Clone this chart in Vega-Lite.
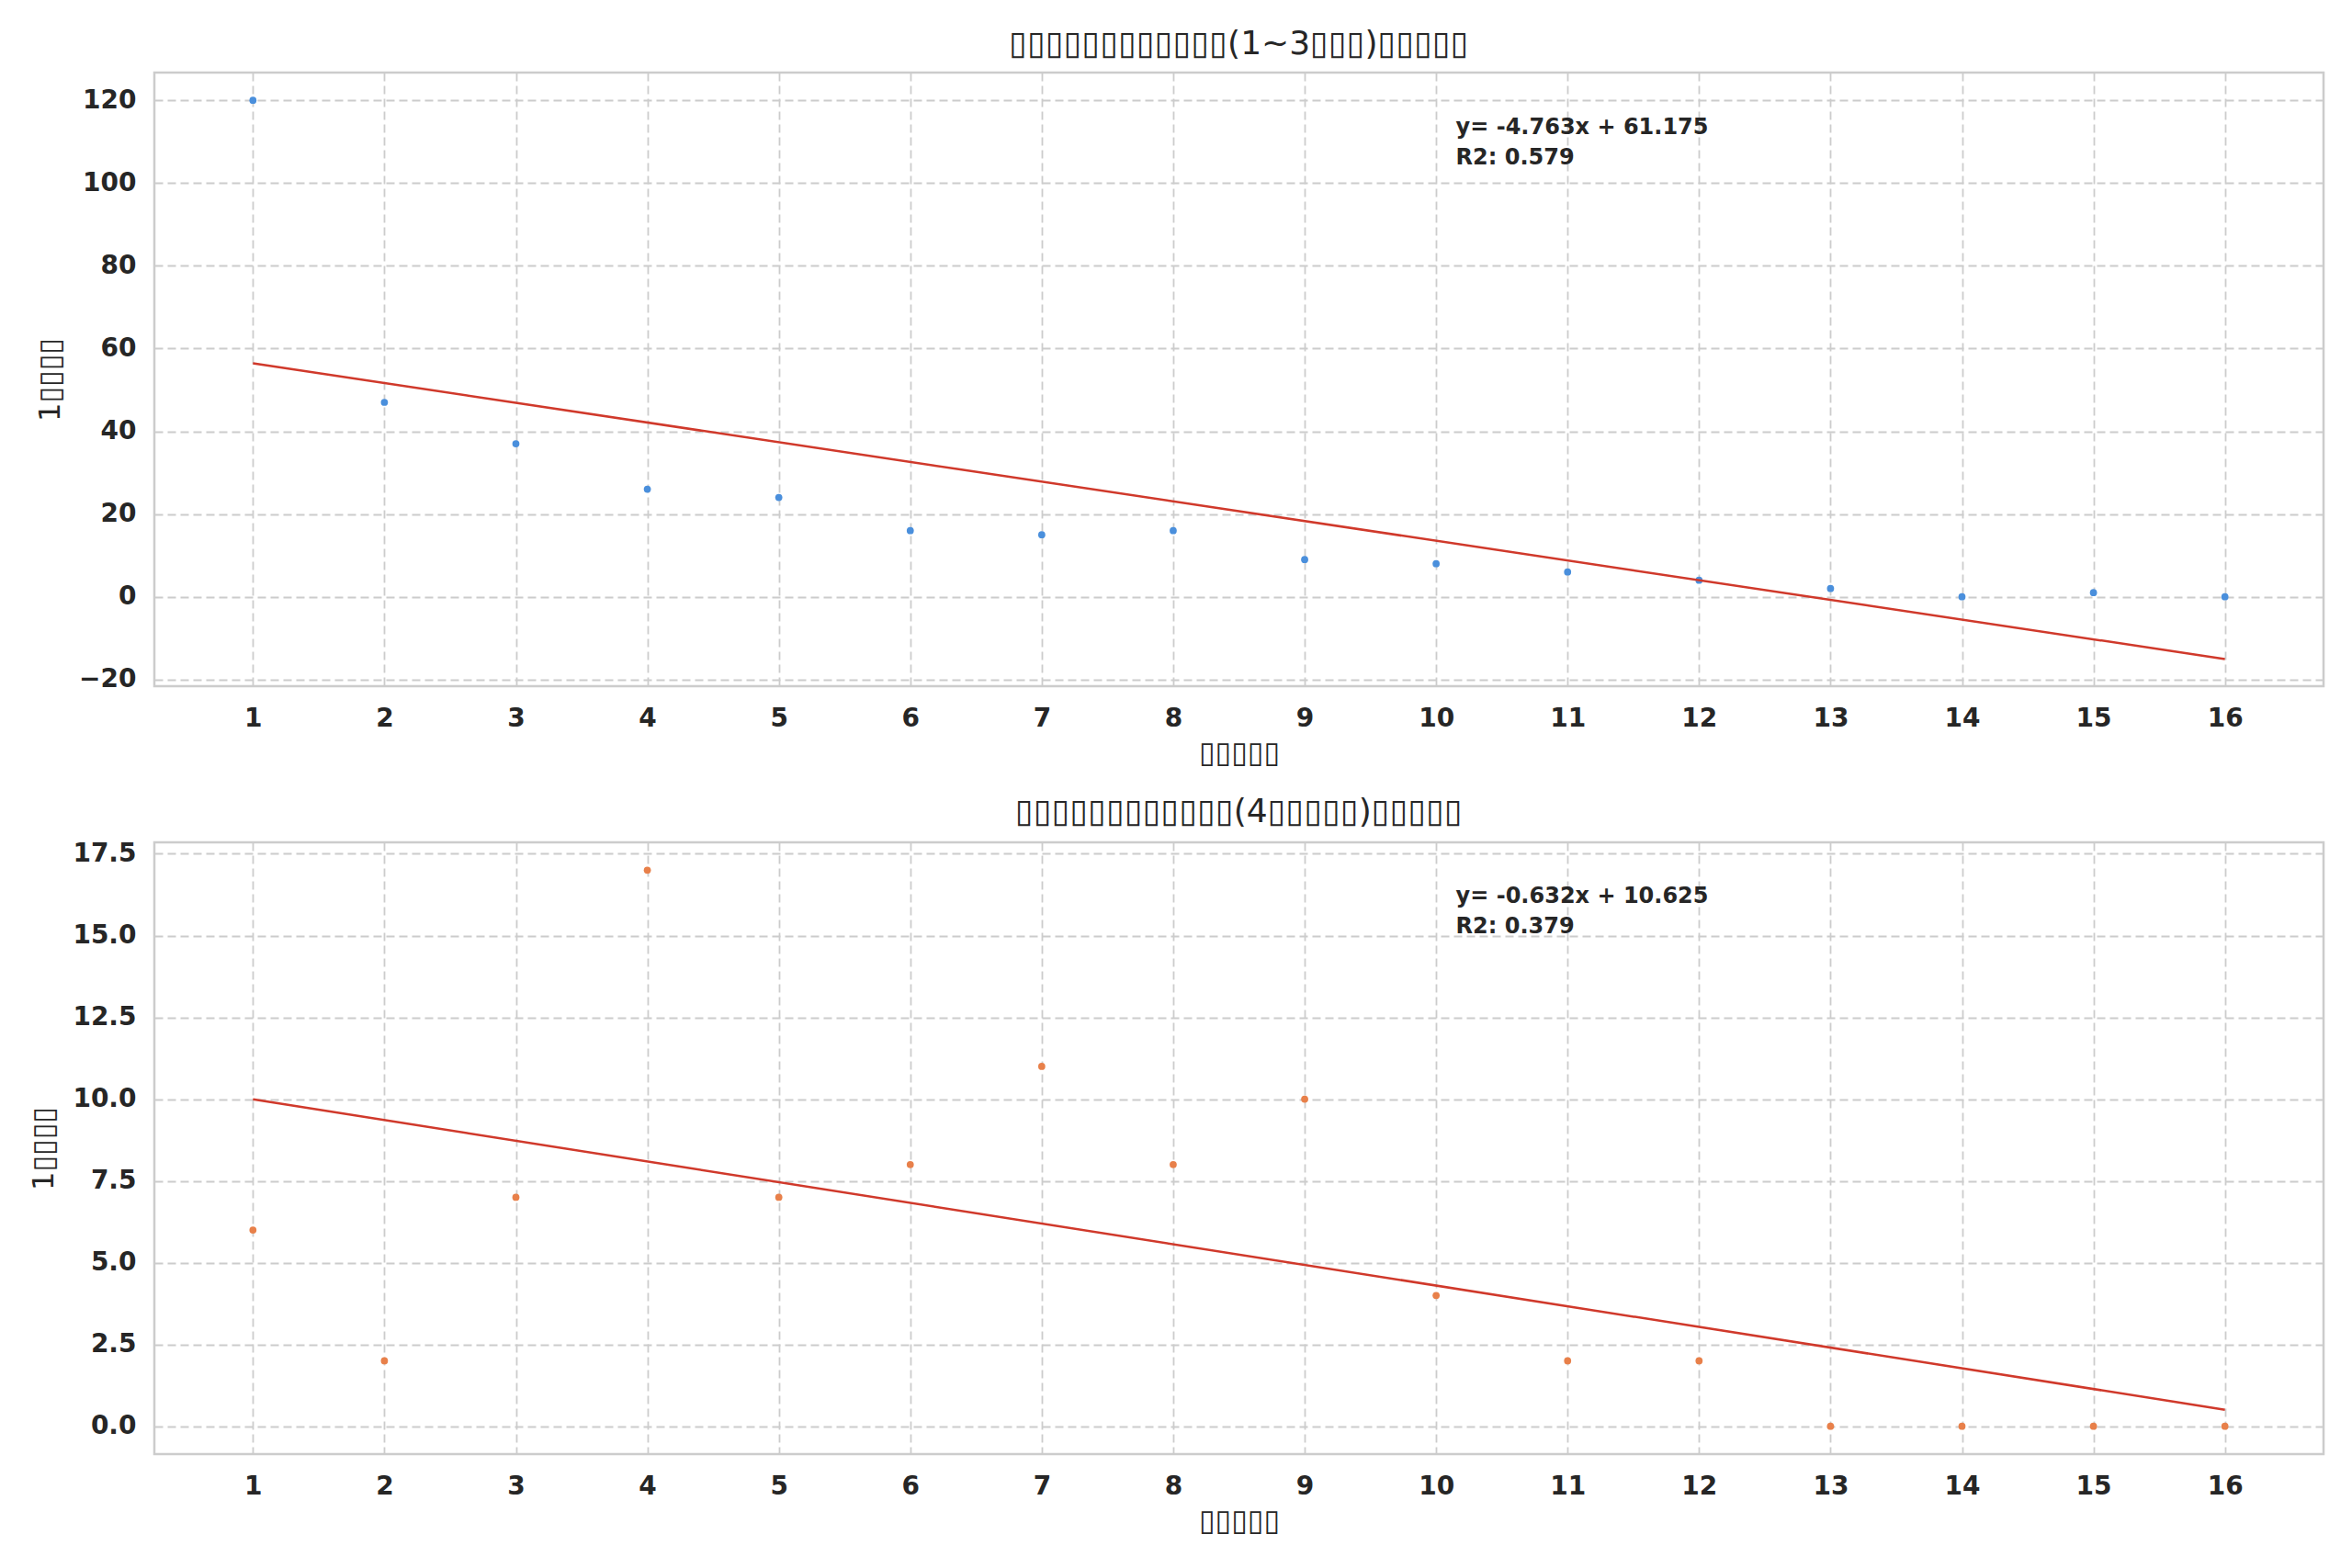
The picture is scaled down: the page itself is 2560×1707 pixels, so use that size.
{
  "$schema": "https://vega.github.io/schema/vega-lite/v6.json",
  "background": "white",
  "padding": {"left": 30, "top": 28, "right": 32, "bottom": 30},
  "spacing": 28,
  "config": {
    "font": "DejaVu Sans",
    "view": {"stroke": "#cccccc", "strokeWidth": 2.5},
    "axis": {
      "grid": true, "gridColor": "#cccccc", "gridDash": [9, 5], "gridWidth": 1.8,
      "domain": false, "ticks": false, "tickSize": 0,
      "labelFont": "DejaVu Sans", "labelFontWeight": "bold", "labelFontSize": 28, "labelColor": "#262626",
      "titleFont": "DejaVu Sans", "titleFontWeight": "normal", "titleFontSize": 32, "titleColor": "#262626"
    },
    "axisX": {"labelPadding": 21, "titlePadding": 8},
    "axisY": {"labelPadding": 20, "titlePadding": 14},
    "title": {"font": "DejaVu Sans", "fontSize": 36, "fontWeight": "normal", "color": "#262626", "offset": 12}
  },
  "datasets": {
    "short": [
      {"week": 1, "count": 120}, {"week": 2, "count": 47}, {"week": 3, "count": 37}, {"week": 4, "count": 26},
      {"week": 5, "count": 24}, {"week": 6, "count": 16}, {"week": 7, "count": 15}, {"week": 8, "count": 16},
      {"week": 9, "count": 9}, {"week": 10, "count": 8}, {"week": 11, "count": 6}, {"week": 12, "count": 4},
      {"week": 13, "count": 2}, {"week": 14, "count": 0}, {"week": 15, "count": 1}, {"week": 16, "count": 0}
    ],
    "long": [
      {"week": 1, "count": 6}, {"week": 2, "count": 2}, {"week": 3, "count": 7}, {"week": 4, "count": 17},
      {"week": 5, "count": 7}, {"week": 6, "count": 8}, {"week": 7, "count": 11}, {"week": 8, "count": 8},
      {"week": 9, "count": 10}, {"week": 10, "count": 4}, {"week": 11, "count": 2}, {"week": 12, "count": 2},
      {"week": 13, "count": 0}, {"week": 14, "count": 0}, {"week": 15, "count": 0}, {"week": 16, "count": 0}
    ],
    "ann1": [
      {"x": 10.15, "y": 111.8, "label": "y= -4.763x + 61.175"},
      {"x": 10.15, "y": 104.5, "label": "R2: 0.579"}
    ],
    "ann2": [
      {"x": 10.15, "y": 16.0, "label": "y= -0.632x + 10.625"},
      {"x": 10.15, "y": 15.07, "label": "R2: 0.379"}
    ]
  },
  "vconcat": [
    {
      "width": 2361, "height": 668,
      "title": "▯▯▯▯▯▯▯▯▯▯▯▯(1~3▯▯▯)▯▯▯▯▯",
      "encoding": {
        "x": {"field": "week", "type": "quantitative",
              "scale": {"domain": [0.25, 16.75], "nice": false, "zero": false},
              "axis": {"values": [1,2,3,4,5,6,7,8,9,10,11,12,13,14,15,16], "title": "▯▯▯▯▯"}},
        "y": {"field": "count", "type": "quantitative",
              "scale": {"domain": [-21.6, 126.7], "nice": false, "zero": false},
              "axis": {"values": [-20, 0, 20, 40, 60, 80, 100, 120], "title": "1▯▯▯▯"}}
      },
      "layer": [
        {"data": {"name": "short"},
         "mark": {"type": "point", "filled": true, "size": 60, "color": "#4a8fdc", "opacity": 1}},
        {"data": {"name": "short"},
         "transform": [{"regression": "count", "on": "week"}],
         "mark": {"type": "line", "color": "#d0392b", "strokeWidth": 2.5}},
        {"data": {"name": "ann1"},
         "mark": {"type": "text", "align": "left", "baseline": "alphabetic", "fontWeight": "bold", "fontSize": 24, "color": "#262626"},
         "encoding": {
           "x": {"field": "x", "type": "quantitative"},
           "y": {"field": "y", "type": "quantitative"},
           "text": {"field": "label"}
         }}
      ]
    },
    {
      "width": 2361, "height": 666,
      "title": "▯▯▯▯▯▯▯▯▯▯▯▯(4▯▯▯▯▯)▯▯▯▯▯",
      "encoding": {
        "x": {"field": "week", "type": "quantitative",
              "scale": {"domain": [0.25, 16.75], "nice": false, "zero": false},
              "axis": {"values": [1,2,3,4,5,6,7,8,9,10,11,12,13,14,15,16], "title": "▯▯▯▯▯"}},
        "y": {"field": "count", "type": "quantitative",
              "scale": {"domain": [-0.85, 17.85], "nice": false, "zero": false},
              "axis": {"values": [0, 2.5, 5, 7.5, 10, 12.5, 15, 17.5], "format": ".1f", "title": "1▯▯▯▯"}}
      },
      "layer": [
        {"data": {"name": "long"},
         "mark": {"type": "point", "filled": true, "size": 60, "color": "#e8804a", "opacity": 1}},
        {"data": {"name": "long"},
         "transform": [{"regression": "count", "on": "week"}],
         "mark": {"type": "line", "color": "#d0392b", "strokeWidth": 2.5}},
        {"data": {"name": "ann2"},
         "mark": {"type": "text", "align": "left", "baseline": "alphabetic", "fontWeight": "bold", "fontSize": 24, "color": "#262626"},
         "encoding": {
           "x": {"field": "x", "type": "quantitative"},
           "y": {"field": "y", "type": "quantitative"},
           "text": {"field": "label"}
         }}
      ]
    }
  ]
}
